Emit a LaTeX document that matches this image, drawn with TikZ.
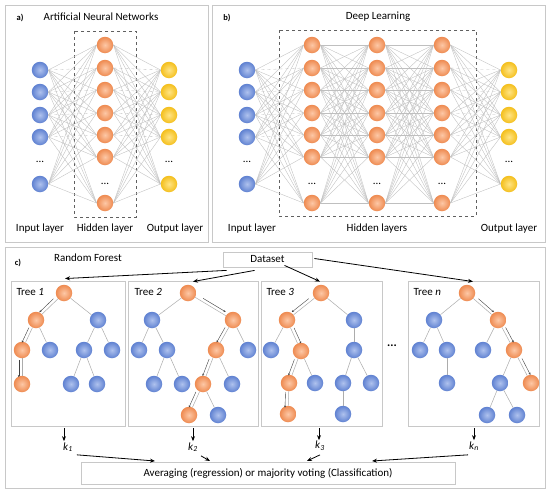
\documentclass[tikz,border=0pt]{standalone}
\usepackage{fontspec}
\setmainfont{Carlito}
\usetikzlibrary{calc,arrows.meta}
\definecolor{frameC}{HTML}{C8C8C8}
\definecolor{blueI}{HTML}{AFC2EE}
\definecolor{blueO}{HTML}{5F81D1}
\definecolor{orI}{HTML}{FDC8A6}
\definecolor{orO}{HTML}{EE8A50}
\definecolor{yeI}{HTML}{FFE485}
\definecolor{yeO}{HTML}{F4BF1C}
\begin{document}
\begin{tikzpicture}[x=1pt,y=-1pt,font=\fontsize{11}{13}\selectfont,
  neuron/.style={circle,minimum size=16.5pt,inner sep=0pt},
  blueN/.style={neuron,inner color=blueI,outer color=blueO},
  orN/.style={neuron,inner color=orI,outer color=orO},
  yeN/.style={neuron,inner color=yeI,outer color=yeO},
  nnedge/.style={draw=gray!50,line width=0.35pt},
  panel/.style={draw=frameC,line width=0.9pt},
  hbox/.style={draw=gray!75!black,dashed,line width=0.6pt},
  plabel/.style={font=\fontsize{8.5}{9}\selectfont\bfseries},
  dotsN/.style={inner sep=0pt},
  tbox/.style={draw=frameC,line width=0.8pt},
  tedge/.style={draw=gray!65,line width=0.5pt},
  parrow/.style={draw=black!75,line width=0.4pt,-{Stealth[length=2.2pt,width=2pt]}},
  bigarrow/.style={draw=black,line width=0.8pt,-{Stealth[length=5pt,width=4pt]}},
  infobox/.style={draw=frameC,line width=0.8pt,inner sep=0pt}
]
\useasboundingbox (0,0) rectangle (550,493);
\fill[white] (0,0) rectangle (550,493);

% ---------- panel frames
\draw[panel] (5,5) rectangle (208,242);
\draw[panel] (212,5) rectangle (545,242);
\draw[panel] (5,247) rectangle (545,488);

% ---------- panel a
\node[plabel] (la) at (20,18) {a)};
\node (ta) at (101,17) {Artificial Neural Networks};
\draw[hbox] (74,31) rectangle (136,217);
\foreach \y [count=\i] in {70,92,115,137,184} {\node[blueN] (ai\i) at (40,\y) {};}
\foreach \y [count=\i] in {45,68,90,113,135,157,203} {\node[orN] (ah\i) at (105,\y) {};}
\foreach \y [count=\i] in {70,92,115,137,184} {\node[yeN] (ao\i) at (169,\y) {};}
\node[dotsN] (ad1) at (40,162) {...};
\node[dotsN] (ad2) at (105,184) {...};
\node[dotsN] (ad3) at (169,162) {...};
\foreach \i in {1,...,5}{\foreach \j in {1,...,7}{
  \pgfmathtruncatemacro\dd{\j-\i}
  \ifnum\i<5 \ifnum\dd=1 \def\st{dashed}\else\def\st{solid}\fi\else\def\st{solid}\fi
  \draw[nnedge,\st] (ai\i.east) -- (ah\j.west);
  \draw[nnedge,\st] (ah\j.east) -- (ao\i.west);
}}
\node (la1) at (40,229) {Input layer};
\node (la2) at (105,229) {Hidden layer};
\node (la3) at (175,229) {Output layer};

% ---------- panel b
\node[plabel] (lb) at (227,18) {b)};
\node (tb) at (378,17) {Deep Learning};
\draw[hbox] (279,30) rectangle (476,216);
\foreach \y [count=\i] in {70,92,115,137,184} {\node[blueN] (bi\i) at (247,\y) {};}
\foreach \x [count=\k] in {312,377,442}{
  \foreach \y [count=\i] in {45,68,90,113,135,157,203} {\node[orN] (b\k h\i) at (\x,\y) {};}
  \node[dotsN] (bd\k) at (\x,184) {...};
}
\foreach \y [count=\i] in {70,92,115,137,184} {\node[yeN] (bo\i) at (509,\y) {};}
\node[dotsN] (bdi) at (247,162) {...};
\node[dotsN] (bdo) at (509,162) {...};
\foreach \i in {1,...,5}{\foreach \j in {1,...,7}{
  \pgfmathtruncatemacro\dd{\j-\i}
  \ifnum\i<5 \ifnum\dd=1 \def\st{dashed}\else\def\st{solid}\fi\else\def\st{solid}\fi
  \draw[nnedge,\st] (bi\i.east) -- (b1h\j.west);
  \draw[nnedge,\st] (b3h\j.east) -- (bo\i.west);
}}
\foreach \i in {1,...,7}{\foreach \j in {1,...,7}{
  \draw[nnedge] (b1h\i.east) -- (b2h\j.west);
  \draw[nnedge] (b2h\i.east) -- (b3h\j.west);
}}
\node (lb1) at (252,229) {Input layer};
\node (lb2) at (377,229) {Hidden layers};
\node (lb3) at (509,229) {Output layer};

% ---------- panel c
\node[plabel] (lc) at (18,263) {c)};
\node (tc) at (88,258) {Random Forest};
\node[infobox,minimum width=89pt,minimum height=15pt] (ds) at (267.5,259.5) {Dataset};

\draw[tbox] (11,281) rectangle (125,426);
\draw[tbox] (128,281) rectangle (258,426);
\draw[tbox] (261,281) rectangle (382,426);
\draw[tbox] (408,281) rectangle (539,426);
\node[anchor=west] (tl1) at (13,292) {Tree \textit{1}};
\node[anchor=west] (tl2) at (131,292) {Tree \textit{2}};
\node[anchor=west] (tl3) at (263,292) {Tree \textit{3}};
\node[anchor=west] (tl4) at (410,292) {Tree \textit{n}};
\node[font=\bfseries\fontsize{12}{12}\selectfont] (mid) at (392,346) {...};

% tree 1
\node[orN] (t1) at (64,293) {};
\node[orN] (t1L) at (36,320) {};
\node[blueN] (t1R) at (98,320) {};
\node[orN] (t1LL) at (22,350) {};
\node[blueN] (t1LR) at (50,350) {};
\node[blueN] (t1RL) at (84,350) {};
\node[blueN] (t1RR) at (112,350) {};
\node[orN] (t1LLL) at (22,384) {};
\node[blueN] (t1RLL) at (71,384) {};
\node[blueN] (t1RLR) at (97,384) {};
% tree 2
\node[orN] (u) at (188,293) {};
\node[blueN] (uL) at (152,320) {};
\node[orN] (uR) at (233,320) {};
\node[blueN] (uLL) at (139,350) {};
\node[blueN] (uLR) at (167,350) {};
\node[orN] (uRL) at (216,350) {};
\node[blueN] (uRR) at (248,350) {};
\node[blueN] (uLRL) at (154,384) {};
\node[blueN] (uLRR) at (182,384) {};
\node[orN] (uRLL) at (203,384) {};
\node[blueN] (uRLR) at (232,384) {};
\node[orN] (uRLLL) at (189,415) {};
\node[blueN] (uRLLR) at (218,415) {};
% tree 3
\node[orN] (v) at (321,293) {};
\node[orN] (vL) at (287,320) {};
\node[blueN] (vR) at (354,320) {};
\node[blueN] (vLL) at (271,350) {};
\node[orN] (vLR) at (301,351) {};
\node[blueN] (vRL) at (354,350) {};
\node[orN] (vLRL) at (289,383) {};
\node[blueN] (vLRR) at (315,383) {};
\node[blueN] (vRLL) at (343,383) {};
\node[blueN] (vRLR) at (371,383) {};
\node[orN] (vLRLL) at (288,414) {};
\node[blueN] (vRLLL) at (343,414) {};
% tree n
\node[orN] (w) at (467,293) {};
\node[blueN] (wL) at (434,320) {};
\node[orN] (wR) at (498,320) {};
\node[blueN] (wLL) at (420,350) {};
\node[blueN] (wLR) at (447,350) {};
\node[blueN] (wRL) at (483,350) {};
\node[orN] (wRR) at (514,350) {};
\node[blueN] (wLRL) at (447,383) {};
\node[blueN] (wRRL) at (500,383) {};
\node[orN] (wRRR) at (531,383) {};
\node[blueN] (wRRLL) at (487,415) {};
\node[blueN] (wRRLR) at (517,415) {};

\foreach \a/\b in {t1/t1L,t1/t1R,t1L/t1LL,t1L/t1LR,t1R/t1RL,t1R/t1RR,t1LL/t1LLL,t1RL/t1RLL,t1RL/t1RLR,
  u/uL,u/uR,uL/uLL,uL/uLR,uR/uRL,uR/uRR,uLR/uLRL,uLR/uLRR,uRL/uRLL,uRL/uRLR,uRLL/uRLLL,uRLL/uRLLR,
  v/vL,v/vR,vL/vLL,vL/vLR,vR/vRL,vLR/vLRL,vLR/vLRR,vRL/vRLL,vRL/vRLR,vLRL/vLRLL,vRLL/vRLLL,
  w/wL,w/wR,wL/wLL,wL/wLR,wR/wRL,wR/wRR,wLR/wLRL,wRR/wRRL,wRR/wRRR,wRRL/wRRLL,wRRL/wRRLR}
  {\draw[tedge] (\a) -- (\b);}

\foreach \a/\b/\s in {t1/t1L/-90,t1L/t1LL/-90,t1LL/t1LLL/-90,
  u/uR/90,uR/uRL/-90,uRL/uRLL/-90,uRLL/uRLLL/-90,
  v/vL/-90,vL/vLR/90,vLR/vLRL/-90,vLRL/vLRLL/-90,
  w/wR/90,wR/wRR/90,wRR/wRRR/90}
  {\draw[parrow] ($(\a)!0.3!(\b)!3.2pt!\s:(\b)$) -- ($(\a)!0.8!(\b)!3.2pt!\s:(\b)$);}

% dataset arrows
\draw[bigarrow] ([shift={(4,3)}]ds.south west) -- ([shift={(1,-6)}]t1.north);
\draw[bigarrow] ([shift={(32,3)}]ds.south west) -- ([shift={(5,-3)}]u.north);
\draw[bigarrow] ([shift={(17,-2)}]ds.south) -- ([shift={(-1,-3)}]v.north);
\draw[bigarrow] ([shift={(2,-1)}]ds.east) -- ([shift={(6,-3)}]w.north);

% outputs
\node[inner sep=1pt] (k1) at (68,447) {\textit{k}\textsubscript{\textit{1}}};
\node[inner sep=1pt] (k2) at (193,447) {\textit{k}\textsubscript{\textit{2}}};
\node[inner sep=1pt] (k3) at (320,446) {\textit{k}\textsubscript{\textit{3}}};
\node[inner sep=1pt] (kn) at (474,446) {\textit{k}\textsubscript{\textit{n}}};
\coordinate (d1) at (64,428);
\coordinate (d2) at (193,428);
\coordinate (d3) at (319,428);
\coordinate (d4) at (474,428);
\draw[bigarrow] (d1) -- (d1 |- k1.north);
\draw[bigarrow] (d2) -- (d2 |- k2.north);
\draw[bigarrow] (d3) -- (d3 |- k3.north);
\draw[bigarrow] (d4) -- (d4 |- kn.north);

\node[infobox,minimum width=374pt,minimum height=22pt] (avg) at (268,473)
  {Averaging (regression) or majority voting (Classification)};
\coordinate (e1) at (155,461);
\coordinate (e2) at (210,461);
\coordinate (e3) at (307,461);
\coordinate (e4) at (372,461);
\draw[bigarrow] ([shift={(3,2)}]k1.south east) -- (e1);
\draw[bigarrow] ([shift={(2,3)}]k2.south east) -- (e2);
\draw[bigarrow] ([shift={(0,3)}]k3.south) -- (e3);
\draw[bigarrow] ([shift={(0,3)}]kn.south west) -- (e4);
\end{tikzpicture}
\end{document}
